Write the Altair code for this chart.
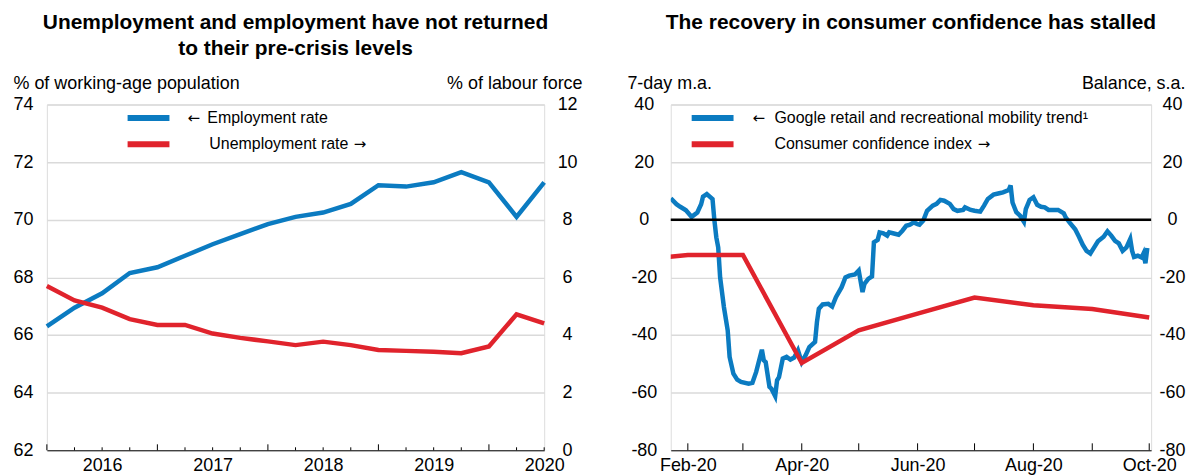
import altair as alt
import pandas as pd

FONT = "Liberation Sans"
ARROW_FONT = "DejaVu Sans"
BLUE = "#0b7bc1"
RED = "#e0232c"
GRID = "#dadada"
W1, W2, H = 499, 482, 347

# ---------------- Left panel data ----------------
quarters = ["2016-Q1", "2016-Q2", "2016-Q3", "2016-Q4",
            "2017-Q1", "2017-Q2", "2017-Q3", "2017-Q4",
            "2018-Q1", "2018-Q2", "2018-Q3", "2018-Q4",
            "2019-Q1", "2019-Q2", "2019-Q3", "2019-Q4",
            "2020-Q1", "2020-Q2", "2020-Q3"]
employment_rate = [66.3, 66.95, 67.45, 68.15, 68.35, 68.75, 69.15, 69.5, 69.85, 70.1,
                   70.25, 70.55, 71.2, 71.15, 71.3, 71.65, 71.3, 70.1, 71.3]
unemployment_rate = [5.7, 5.2, 4.95, 4.55, 4.35, 4.35, 4.05, 3.9, 3.78, 3.65,
                     3.77, 3.65, 3.48, 3.45, 3.42, 3.37, 3.6, 4.72, 4.4]
left_legend = ["Employment rate", "Unemployment rate"]
left_arrows = ["\u2190", "\u2192"]
left_title = ["Unemployment and employment have not returned", "to their pre-crisis levels"]

# ---------------- Right panel data ----------------
mobility_dates = [
    "2020-01-23", "2020-01-26", "2020-01-28", "2020-01-31", "2020-02-03", "2020-02-06",
    "2020-02-08", "2020-02-09", "2020-02-11", "2020-02-14", "2020-02-15", "2020-02-16",
    "2020-02-17", "2020-02-18", "2020-02-20", "2020-02-22", "2020-02-23", "2020-02-25",
    "2020-02-27", "2020-02-29", "2020-03-04", "2020-03-06", "2020-03-08", "2020-03-11",
    "2020-03-12", "2020-03-13", "2020-03-15", "2020-03-16", "2020-03-18", "2020-03-19",
    "2020-03-20", "2020-03-22", "2020-03-24", "2020-03-26", "2020-03-28", "2020-03-30",
    "2020-04-01", "2020-04-03", "2020-04-05", "2020-04-08", "2020-04-09", "2020-04-10",
    "2020-04-12", "2020-04-15", "2020-04-17", "2020-04-19", "2020-04-22", "2020-04-24",
    "2020-04-26", "2020-04-29", "2020-05-01", "2020-05-03", "2020-05-04", "2020-05-06",
    "2020-05-08", "2020-05-09", "2020-05-11", "2020-05-12", "2020-05-14", "2020-05-16",
    "2020-05-17", "2020-05-19", "2020-05-22", "2020-05-24", "2020-05-26", "2020-05-28",
    "2020-05-30", "2020-06-01", "2020-06-02", "2020-06-04", "2020-06-06", "2020-06-09",
    "2020-06-11", "2020-06-13", "2020-06-15", "2020-06-18", "2020-06-20", "2020-06-22",
    "2020-06-25", "2020-06-26", "2020-06-29", "2020-07-01", "2020-07-04", "2020-07-06",
    "2020-07-08", "2020-07-11", "2020-07-14", "2020-07-16", "2020-07-19", "2020-07-20",
    "2020-07-21", "2020-07-23", "2020-07-25", "2020-07-27", "2020-07-28", "2020-07-30",
    "2020-08-01", "2020-08-03", "2020-08-05", "2020-08-07", "2020-08-09", "2020-08-12",
    "2020-08-14", "2020-08-17", "2020-08-18", "2020-08-20", "2020-08-23", "2020-08-25",
    "2020-08-27", "2020-08-29", "2020-08-31", "2020-09-02", "2020-09-04", "2020-09-07",
    "2020-09-09", "2020-09-11", "2020-09-13", "2020-09-15", "2020-09-17", "2020-09-19",
    "2020-09-21", "2020-09-22", "2020-09-23", "2020-09-25", "2020-09-27", "2020-09-28",
    "2020-09-29", "2020-09-30"]
mobility_values = [
    7.4, 5.4, 4.5, 3.3, 1.0, 2.5,
    5.4, 8.0, 8.9, 7.2, -0.3, -6.1,
    -9.6, -20.0, -30.3, -38.4, -47.6, -53.4,
    -55.5, -56.3, -56.9, -56.6, -52.8, -45.1,
    -48.8, -49.4, -58.0, -58.6, -61.2, -55.7,
    -54.6, -48.2, -47.6, -48.5, -47.8, -45.3,
    -49.4, -47.1, -44.2, -42.4, -35.5, -30.9,
    -29.4, -29.2, -30.1, -26.9, -23.4, -20.0,
    -19.4, -19.0, -17.6, -25.1, -22.3, -20.5,
    -19.7, -7.8, -7.0, -4.4, -4.7, -5.5,
    -4.4, -4.7, -5.2, -3.8, -2.1, -1.7,
    -0.9, -1.5, -1.7, -0.3, 3.1, 4.9,
    5.5, 6.9, 6.6, 5.5, 3.7, 3.1,
    3.4, 4.3, 3.4, 3.1, 2.8, 4.9,
    7.2, 8.7, 9.2, 9.5, 10.3, 11.9,
    6.0, 2.6, 1.4, -0.7, 3.7, 6.9,
    7.8, 5.2, 4.5, 4.3, 3.4, 3.4,
    3.4, 2.2, 0.8, -0.9, -3.3, -5.9,
    -8.7, -10.8, -11.7, -9.6, -7.5, -5.9,
    -4.0, -5.5, -7.3, -8.2, -10.8, -9.6,
    -6.7, -10.8, -12.9, -12.5, -13.1, -11.7,
    -15.1, -9.8]
confidence_dates = ["2020-01-01", "2020-02-01", "2020-03-01", "2020-04-01", "2020-05-01",
                    "2020-06-01", "2020-07-01", "2020-08-01", "2020-09-01", "2020-10-01"]
confidence_values = [-14.2, -12.2, -12.2, -49.7, -38.4, -32.6, -27.0, -29.7, -31.0, -33.9]
month_ticks = ["2020-02-01", "2020-03-01", "2020-04-01", "2020-05-01", "2020-06-01",
               "2020-07-01", "2020-08-01", "2020-09-01", "2020-10-01"]
right_legend = ["Google retail and recreational mobility trend\u00b9",
                "Consumer confidence index"]
right_arrows = ["\u2190", "\u2192"]
right_title = ["The recovery in consumer confidence has stalled", " "]
right_domain = ["2020-01-23", "2020-10-02"]


def ts(d):
    return d + "T00:00:00"


left_df = pd.DataFrame({"quarter": quarters,
                        "employment": employment_rate,
                        "unemployment": unemployment_rate})
mob_df = pd.DataFrame({"date": [ts(d) for d in mobility_dates], "value": mobility_values})
conf_df = pd.DataFrame({"date": [ts(d) for d in confidence_dates], "value": confidence_values})
tick_df = pd.DataFrame({"date": [ts(d) for d in month_ticks]})
zero_df = pd.DataFrame({"v": [0]})

HYPHEN_EXPR = "datum.value < 0 ? '-' + abs(datum.value) : '' + datum.value"


def y_axis(values, orient, pad, title, title_x, hide_value=None, grid=True):
    kw = dict(values=values, orient=orient, grid=grid, domain=False, ticks=False,
              tickSize=0, labelAlign="center", labelBaseline="middle", labelPadding=pad,
              labelFontSize=18, labelFont=FONT, labelColor="black", labelExpr=HYPHEN_EXPR,
              title=title, titleAngle=0, titleAlign="left" if orient == "left" else "right",
              titleBaseline="alphabetic", titleX=title_x, titleY=-16, titleFontSize=18,
              titleFontWeight="normal", titleFont=FONT, titleColor="black")
    if grid:
        kw["gridColor"] = GRID
        kw["gridWidth"] = 1.5
        if hide_value is not None:
            kw["gridOpacity"] = {"condition": {"test": f"datum.value === {hide_value}", "value": 0},
                                 "value": 1}
    return alt.Axis(**kw)


def legend_layers(labels, arrows, sx, sx2, text_x, arrow_x, ys, colors):
    layers = []
    one = alt.Data(values=[{"k": 1}])
    for i in range(len(labels)):
        layers.append(alt.Chart(one).mark_rule(color=colors[i], strokeWidth=6).encode(
            x=alt.value(sx), x2=alt.value(sx2), y=alt.value(ys[i])))
        layers.append(alt.Chart(alt.Data(values=[{"label": labels[i]}])).mark_text(
            align="left", baseline="middle", fontSize=16, font=FONT, color="black").encode(
            x=alt.value(text_x[i]), y=alt.value(ys[i]), text="label:N"))
        layers.append(alt.Chart(alt.Data(values=[{"label": arrows[i]}])).mark_text(
            align="left", baseline="middle", fontSize=15, font=ARROW_FONT, color="black").encode(
            x=alt.value(arrow_x[i]), y=alt.value(ys[i]), text="label:N"))
    return layers


# ---------------- Left chart ----------------
x_left = alt.X("quarter:O", scale=alt.Scale(type="point", padding=0, domain=quarters),
               axis=alt.Axis(title=None, labelAngle=0, ticks=False, tickSize=0, grid=False,
                             domain=True, domainColor="black", domainWidth=1,
                             labelExpr="indexof(datum.value, 'Q3') >= 0 ? slice(datum.value, 0, 4) : ''",
                             labelOverlap=False, labelPadding=6, labelFontSize=18,
                             labelFont=FONT, labelColor="black"))

emp_line = alt.Chart(left_df).mark_line(color=BLUE, strokeWidth=4.5).encode(
    x=x_left,
    y=alt.Y("employment:Q", scale=alt.Scale(domain=[62, 74], nice=False, zero=False),
            axis=y_axis(list(range(62, 75, 2)), "left", 24, "% of working-age population", -34, 62)))
unemp_line = alt.Chart(left_df).mark_line(color=RED, strokeWidth=4.5).encode(
    x=x_left,
    y=alt.Y("unemployment:Q", scale=alt.Scale(domain=[0, 12], nice=False),
            axis=y_axis(list(range(0, 13, 2)), "right", 23, "% of labour force", 38, grid=False)))
tick_year = alt.Chart(left_df).transform_filter(
    "indexof(datum.quarter, 'Q1') >= 0").mark_rule(color="black", strokeWidth=1).encode(
    x=x_left, y=alt.value(H - 6), y2=alt.value(H))
tick_q = alt.Chart(left_df).transform_filter(
    "indexof(datum.quarter, 'Q1') < 0").mark_rule(color="black", strokeWidth=1).encode(
    x=x_left, y=alt.value(H - 3), y2=alt.value(H))

left_chart = alt.layer(
    emp_line, unemp_line, tick_year, tick_q,
    *legend_layers(left_legend, left_arrows, 81, 123, [161, 163], [141, 308],
                   [13.5, 40], [BLUE, RED])
).resolve_scale(y="independent").properties(
    width=W1, height=H,
    title=alt.TitleParams(text=left_title, fontSize=21, fontWeight="bold", font=FONT,
                          anchor="middle", frame="group", lineHeight=26, offset=16,
                          color="black"))

# ---------------- Right chart ----------------
x_right = alt.X("date:T", scale=alt.Scale(domain=[ts(d) for d in right_domain]),
                axis=alt.Axis(title=None, labelAngle=0, ticks=False, tickSize=0, grid=False,
                              domain=True, domainColor="black", domainWidth=1,
                              values=[alt.DateTime(year=2020, month=m, date=1) for m in (2, 4, 6, 8, 10)],
                              format="%b-%y", labelOverlap=False, labelFlush=False,
                              labelPadding=6, labelFontSize=18, labelFont=FONT,
                              labelColor="black"))
y_mob_axis = y_axis(list(range(-80, 41, 20)), "left", 27, "7-day m.a.", -44, -80)
mob_line = alt.Chart(mob_df).mark_line(color=BLUE, strokeWidth=4.5, clip=True).encode(
    x=x_right,
    y=alt.Y("value:Q", scale=alt.Scale(domain=[-80, 40], nice=False), axis=y_mob_axis))
zero_rule = alt.Chart(zero_df).mark_rule(color="black", strokeWidth=2.5).encode(
    y=alt.Y("v:Q", scale=alt.Scale(domain=[-80, 40], nice=False), axis=y_mob_axis))
mob_group = alt.layer(mob_line, zero_rule)

conf_line = alt.Chart(conf_df).mark_line(color=RED, strokeWidth=4.5, clip=True).encode(
    x=x_right,
    y=alt.Y("value:Q", scale=alt.Scale(domain=[-80, 40], nice=False),
            axis=y_axis(list(range(-80, 41, 20)), "right", 21, "Balance, s.a.", 34, grid=False)))
month_tick_rules = alt.Chart(tick_df).mark_rule(color="black", strokeWidth=1).encode(
    x=x_right, y=alt.value(H - 7), y2=alt.value(H))

right_chart = alt.layer(
    mob_group, conf_line, month_tick_rules,
    *legend_layers(right_legend, right_arrows, 21, 63, [104, 104], [82, 308],
                   [13.5, 40], [BLUE, RED])
).resolve_scale(y="independent").properties(
    width=W2, height=H,
    title=alt.TitleParams(text=right_title, fontSize=21, fontWeight="bold", font=FONT,
                          anchor="middle", frame="group", lineHeight=26, offset=16,
                          color="black"))

chart = alt.hconcat(left_chart, right_chart, spacing=43).properties(
    padding={"left": 4, "top": 2, "right": 0, "bottom": 0}
).configure_view(stroke=None).configure(font=FONT)

chart.save("out.html", embed_options={"renderer": "svg", "actions": False})
